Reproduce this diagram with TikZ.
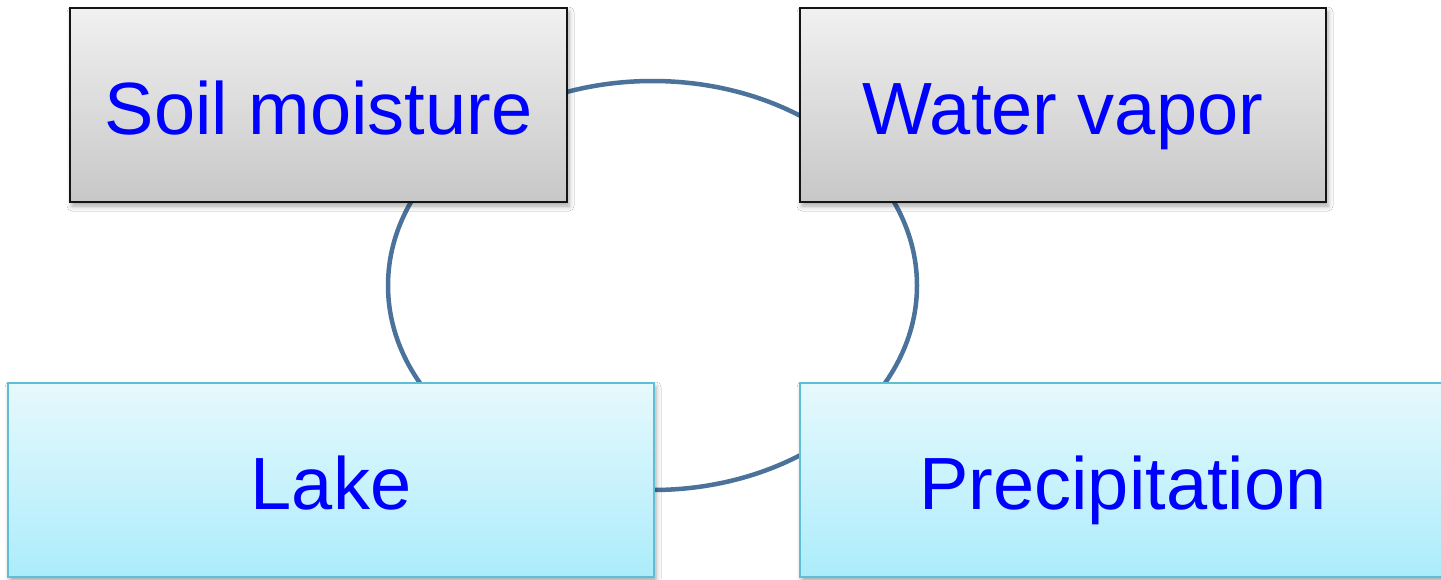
\documentclass[tikz,border=0pt]{standalone}
\usepackage{fontspec}
\setmainfont{Liberation Sans}
\usetikzlibrary{shadows.blur}
\definecolor{cyc}{RGB}{74,114,155}
\definecolor{txt}{RGB}{0,0,255}
\definecolor{gtop}{RGB}{241,241,241}
\definecolor{gbot}{RGB}{199,199,199}
\definecolor{ctop}{RGB}{230,249,253}
\definecolor{cbot}{RGB}{172,236,251}
\definecolor{cline}{RGB}{94,190,214}
\tikzset{
  box/.style={rectangle, minimum height=194pt, inner sep=0pt, text=txt,
    text height=59pt, text depth=0pt,
    font=\fontsize{74}{88}\selectfont,
    blur shadow={shadow xshift=2pt, shadow yshift=-4pt, shadow blur radius=5pt, shadow opacity=35}},
  graybox/.style={box, draw={rgb,255:red,20;green,20;blue,20}, line width=2.5pt, top color=gtop, bottom color=gbot},
  cyanbox/.style={box, draw=cline, line width=2.2pt, top color=ctop, bottom color=cbot},
  cycle line/.style={draw=cyc, line width=4.5pt}
}
\begin{document}
\begin{tikzpicture}[x=1pt,y=-1pt]
\clip (0,0) rectangle (1441,579);
\fill[white] (0,0) rectangle (1441,579);
\coordinate (c) at (652.5,285.5);
\draw[cycle line] (c) ellipse [x radius=264.5, y radius=204.5];
\node[graybox, minimum width=497pt] (soil) at (318.5,105) {Soil moisture};
\node[graybox, minimum width=526pt] (vapor) at (1063,105) {Water vapor};
\node[cyanbox, minimum width=646pt] (lake) at (331,480) {Lake};
\node[cyanbox, minimum width=646pt] (precip) at (1123,480) {Precipitation};
\end{tikzpicture}
\end{document}
